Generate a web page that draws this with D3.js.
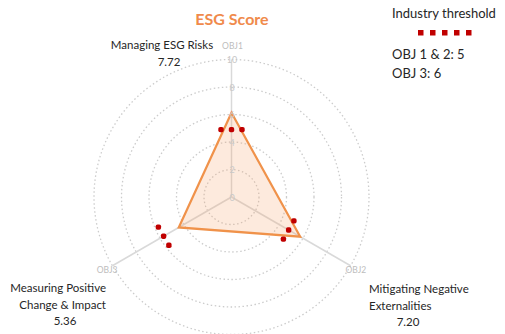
<!DOCTYPE html>
<html>
<head>
<meta charset="utf-8">
<script src="https://cdn.jsdelivr.net/npm/d3@7"></script>
<style>
  html, body { margin: 0; padding: 0; background: #fff; }
  svg { display: block; font-family: Lato, "Open Sans", sans-serif; }
</style>
</head>
<body>
<div id="chart"></div>
<script>
// axes, clockwise from the top
var axes       = ['OBJ1', 'OBJ2', 'OBJ3'];
var axisNames  = [['Managing ESG Risks'], ['Mitigating Negative', 'Externalities'], ['Measuring Positive', 'Change & Impact']];
var scoreText  = ['7.72', '7.20', '5.36'];
// plotted polygon, as drawn in the picture
var scores     = [6.13, 5.77, 4.43];
// industry threshold marks
var thresholds = [4.9, 4.8, 5.7];
var ticks      = [0, 2, 4, 6, 8, 10];
var legendRows = ['OBJ 1 & 2: 5', 'OBJ 3: 6'];

var width = 505, height = 334;
var cx = 231.5, cy = 197;

var svg = d3.select('#chart').append('svg')
    .attr('width', width)
    .attr('height', height);

var r = d3.scaleLinear().domain([0, 10]).range([0, 137.5]);
var angle = function(i) { return i * 2 * Math.PI / axes.length; };
var pt = function(i, v) {
  return [cx + Math.sin(angle(i)) * r(v), cy - Math.cos(angle(i)) * r(v)];
};

var g = svg.append('g');

// grid rings
g.selectAll('circle.ring').data(ticks.slice(1)).enter().append('circle')
    .attr('class', 'ring')
    .attr('cx', cx).attr('cy', cy)
    .attr('r', function(d) { return r(d); })
    .attr('fill', 'none')
    .attr('stroke', '#cccccc')
    .attr('stroke-width', 1.3)
    .attr('stroke-dasharray', '1.5,2.5');

// spokes
g.selectAll('line.spoke').data(axes).enter().append('line')
    .attr('class', 'spoke')
    .attr('x1', cx).attr('y1', cy)
    .attr('x2', function(d, i) { return pt(i, 10)[0]; })
    .attr('y2', function(d, i) { return pt(i, 10)[1]; })
    .attr('stroke', '#d9d9d9')
    .attr('stroke-width', 1.5);

// score polygon
var line = d3.line().curve(d3.curveLinearClosed);
g.append('path')
    .datum(scores.map(function(v, i) { return pt(i, v); }))
    .attr('d', line)
    .attr('fill', 'rgba(244, 160, 100, 0.22)')
    .attr('stroke', '#f0924a')
    .attr('stroke-width', 2.2)
    .attr('stroke-linejoin', 'miter');

// tick labels on the top spoke
g.selectAll('text.tick').data(ticks).enter().append('text')
    .attr('class', 'tick')
    .attr('x', cx + 0.5)
    .attr('y', function(d) { return cy - r(d) + 3.5; })
    .attr('text-anchor', 'middle')
    .attr('font-size', 9)
    .attr('fill', '#c8c8c8')
    .text(function(d) { return d; });

// threshold dots, perpendicular to each spoke
var dots = [];
thresholds.forEach(function(v, i) {
  var p = pt(i, v), a = angle(i);
  [-1, 0, 1].forEach(function(k) {
    dots.push([p[0] + Math.cos(a) * k * 10.5, p[1] + Math.sin(a) * k * 10.5]);
  });
});
g.selectAll('rect.thr').data(dots).enter().append('rect')
    .attr('class', 'thr')
    .attr('x', function(d) { return d[0] - 2.7; })
    .attr('y', function(d) { return d[1] - 2.7; })
    .attr('width', 5.4).attr('height', 5.4)
    .attr('rx', 1.8)
    .attr('fill', '#c00000');

// axis ids
g.selectAll('text.axid').data(axes).enter().append('text')
    .attr('class', 'axid')
    .attr('x', function(d, i) { return i === 0 ? cx + 1 : pt(i, 10.45)[0]; })
    .attr('y', function(d, i) { return i === 0 ? cy - r(10) - 11 : pt(i, 10.45)[1] + 4; })
    .attr('text-anchor', 'middle')
    .attr('font-size', 8.5)
    .attr('fill', '#bdbdbd')
    .text(function(d) { return d; });

// category names + score text
var catPos = [
  {x: 162, y: 49, anchor: 'middle', vx: 169},
  {x: 369, y: 293, anchor: 'start', vx: 408},
  {x: 106, y: 292, anchor: 'end', vx: 65}
];
axisNames.forEach(function(lines, i) {
  var p = catPos[i];
  var t = svg.append('g').attr('fill', '#262626').attr('font-size', 11.5);
  lines.forEach(function(s, j) {
    t.append('text')
        .attr('x', p.x).attr('y', p.y + j * 16.5)
        .attr('text-anchor', p.anchor)
        .text(s);
  });
  t.append('text')
      .attr('x', p.vx).attr('y', p.y + lines.length * 16.5)
      .attr('text-anchor', 'middle')
      .text(scoreText[i]);
});

// title
svg.append('text')
    .attr('x', 232).attr('y', 25)
    .attr('text-anchor', 'middle')
    .attr('font-size', 16)
    .attr('font-weight', 'bold')
    .attr('fill', '#f08a4b')
    .text('ESG Score');

// legend
var lg = svg.append('g').attr('fill', '#262626').attr('font-size', 13);
lg.append('text').attr('x', 392).attr('y', 18).text('Industry threshold');
lg.selectAll('rect').data(d3.range(5)).enter().append('rect')
    .attr('x', function(d) { return 418 + d * 12; })
    .attr('y', 30)
    .attr('width', 5.5).attr('height', 5.5)
    .attr('fill', '#c00000');
lg.selectAll('text.row').data(legendRows).enter().append('text')
    .attr('class', 'row')
    .attr('x', 392)
    .attr('y', function(d, i) { return 59 + i * 19; })
    .text(function(d) { return d; });
</script>
</body>
</html>
